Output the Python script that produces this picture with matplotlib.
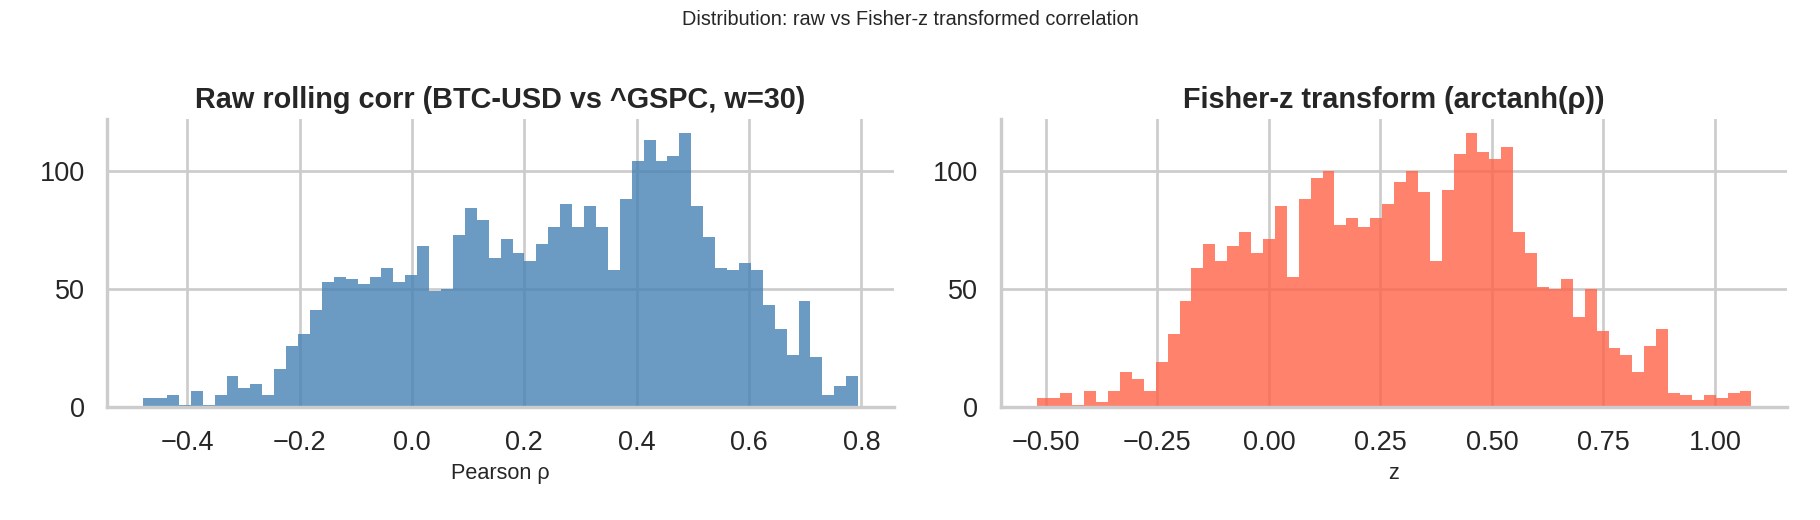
import numpy as np
import matplotlib
matplotlib.use("Agg")
import matplotlib.pyplot as plt
import seaborn as sns

""" DATA (read off the reference histograms, 60 bins each) """
rho_min, rho_max = -0.4785, 0.794
rho_counts = [4, 4, 5, 1, 7, 1, 5, 13, 8, 10, 5, 16, 26, 31, 41,
              53, 55, 54, 52, 55, 59, 53, 56, 68, 49, 50, 73, 84, 79, 63,
              71, 65, 62, 69, 76, 86, 76, 85, 76, 58, 88, 104, 113, 104, 106,
              116, 85, 72, 59, 58, 61, 58, 43, 33, 22, 45, 21, 5, 9, 13]

z_min, z_max = np.arctanh(rho_min), np.arctanh(rho_max)
z_counts = [4, 4, 6, 1, 7, 2, 7, 15, 12, 7, 19, 31, 45, 59, 69,
            62, 68, 74, 65, 71, 85, 55, 88, 97, 100, 77, 80, 76, 80, 86,
            95, 100, 91, 62, 92, 107, 116, 108, 105, 110, 74, 65, 51, 50, 54,
            38, 50, 32, 25, 22, 15, 26, 33, 6, 5, 3, 5, 4, 6, 7]

rho_ticks = [-0.4, -0.2, 0.0, 0.2, 0.4, 0.6, 0.8]
z_ticks = [-0.5, -0.25, 0.0, 0.25, 0.5, 0.75, 1.0]

""" STYLE """
sns.set_theme(style="whitegrid", context="talk")
plt.rcParams['font.family'] = ['Liberation Sans', 'DejaVu Sans']
plt.rcParams['xtick.labelsize'] = 15
plt.rcParams['ytick.labelsize'] = 15

fig, axes = plt.subplots(1, 2, figsize=(14, 4), dpi=130)
fig.subplots_adjust(left=0.059, right=0.982, top=0.771, bottom=0.217, wspace=0.136)


def draw_hist(ax, lo, hi, counts, color):
    edges = np.linspace(lo, hi, len(counts) + 1)
    centers = (edges[:-1] + edges[1:]) / 2
    ax.hist(centers, bins=edges, weights=counts, color=color, alpha=0.8, linewidth=0)


# left: raw correlation
draw_hist(axes[0], rho_min, rho_max, rho_counts, "steelblue")
axes[0].set_title("Raw rolling corr (BTC-USD vs ^GSPC, w=30)", fontweight="bold", fontsize=16)
axes[0].set_xlabel("Pearson ρ", fontsize=12)
axes[0].set_xticks(rho_ticks)

# right: Fisher-z
draw_hist(axes[1], z_min, z_max, z_counts, "tomato")
axes[1].set_title("Fisher-z transform (arctanh(ρ))", fontweight="bold", fontsize=16)
axes[1].set_xlabel("z", fontsize=12)
axes[1].set_xticks(z_ticks)
axes[1].set_xticklabels([f"{t:.2f}".replace("-", "\u2212") for t in z_ticks])

for ax in axes:
    ax.set_ylabel("")
    ax.set_yticks([0, 50, 100])
sns.despine()

fig.suptitle("Distribution: raw vs Fisher-z transformed correlation", fontsize=11)
fig.savefig("out.png", dpi=130)
